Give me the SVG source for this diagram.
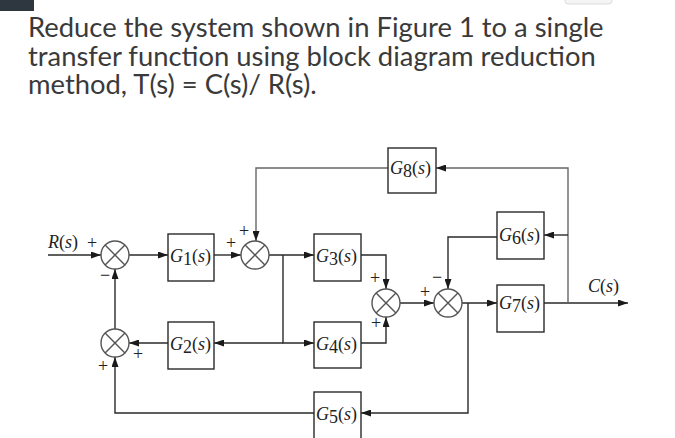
<svg xmlns="http://www.w3.org/2000/svg" width="675" height="438" viewBox="0 0 675 438">
<style>
.title{font-family:Lato,"Open Sans","Liberation Sans",sans-serif;font-size:27.4px;fill:#3a3a3a}
.lbl{font-family:"Liberation Serif","Times New Roman",serif;font-size:18px;fill:#222}
.it{font-style:italic}
.sg{font-family:"Liberation Serif","Times New Roman",serif;font-size:18px;fill:#222;text-anchor:middle}
.box{fill:none;stroke:#2a2a2a;stroke-width:1.4}
.sum circle{fill:#fff;stroke:#555;stroke-width:1.4}
.sum line{stroke:#555;stroke-width:1.4}
.wire{fill:none;stroke:#2a2a2a;stroke-width:1.4}
.wire.lt{stroke:#666}
</style>
<defs>
<marker id="ah" markerUnits="userSpaceOnUse" markerWidth="10" markerHeight="7" refX="10" refY="3.5" orient="auto">
<path d="M0,0 L10,3.5 L0,7 z" fill="#1a1a1a"/>
</marker>
</defs>
<rect x="0" y="0" width="675" height="438" fill="#fff"/>
<rect x="0" y="0" width="34" height="11" fill="#2e3640"/>
<path d="M565,0 V1 Q565,4 568,4 H609 Q612,4 612,1 V0" fill="#f4f4f4" stroke="#dddddd" stroke-width="1"/>
<g id="title">
<text class="title"><tspan x="28" y="37">Reduce the system shown in Figure 1 to a single</tspan><tspan x="28" y="66">transfer function using block diagram reduction</tspan><tspan x="28" y="94">method, T(s) = C(s)/ R(s).</tspan></text>
</g>
<g id="connectors">
<path class="wire" d="M48,255 H101" marker-end="url(#ah)"/>
<path class="wire" d="M129,255 H168" marker-end="url(#ah)"/>
<path class="wire" d="M214,255 H241" marker-end="url(#ah)"/>
<path class="wire lt" d="M388,168 H256 V241" marker-end="url(#ah)"/>
<path class="wire" d="M269,255 H314" marker-end="url(#ah)"/>
<path class="wire" d="M283,255 V343 H314" marker-end="url(#ah)"/>
<path class="wire" d="M283,343 H214" marker-end="url(#ah)"/>
<path class="wire" d="M168,343 H129" marker-end="url(#ah)"/>
<path class="wire" d="M115,329 V269" marker-end="url(#ah)"/>
<path class="wire" d="M361,255 H386 V289" marker-end="url(#ah)"/>
<path class="wire" d="M361,343 H386 V317" marker-end="url(#ah)"/>
<path class="wire" d="M400,303 H434" marker-end="url(#ah)"/>
<path class="wire" d="M462,303 H497" marker-end="url(#ah)"/>
<path class="wire" d="M544,303 H628" marker-end="url(#ah)"/>
<path class="wire lt" d="M568,303 V168 H436" marker-end="url(#ah)"/>
<path class="wire" d="M568,235 H544" marker-end="url(#ah)"/>
<path class="wire" d="M497,237 H448 V289" marker-end="url(#ah)"/>
<path class="wire" d="M468,303 V413 H361" marker-end="url(#ah)"/>
<path class="wire" d="M314,413 H115 V357" marker-end="url(#ah)"/>
</g>
<g id="sum1" class="sum"><circle cx="115" cy="255" r="14"/><line x1="105.1" y1="245.1" x2="124.9" y2="264.9"/><line x1="105.1" y1="264.9" x2="124.9" y2="245.1"/></g>
<g id="sum2" class="sum"><circle cx="255" cy="255" r="14"/><line x1="245.1" y1="245.1" x2="264.9" y2="264.9"/><line x1="245.1" y1="264.9" x2="264.9" y2="245.1"/></g>
<g id="sum3" class="sum"><circle cx="115" cy="343" r="14"/><line x1="105.1" y1="333.1" x2="124.9" y2="352.9"/><line x1="105.1" y1="352.9" x2="124.9" y2="333.1"/></g>
<g id="sum4" class="sum"><circle cx="386" cy="303" r="14"/><line x1="376.1" y1="293.1" x2="395.9" y2="312.9"/><line x1="376.1" y1="312.9" x2="395.9" y2="293.1"/></g>
<g id="sum5" class="sum"><circle cx="448" cy="303" r="14"/><line x1="438.1" y1="293.1" x2="457.9" y2="312.9"/><line x1="438.1" y1="312.9" x2="457.9" y2="293.1"/></g>
<g id="signs">
<text class="sg" x="92" y="249">+</text>
<text class="sg" x="105" y="281">−</text>
<text class="sg" x="231" y="249">+</text>
<text class="sg" x="244" y="237">+</text>
<text class="sg" x="138" y="360">+</text>
<text class="sg" x="103" y="372">+</text>
<text class="sg" x="375" y="284">+</text>
<text class="sg" x="376" y="329">+</text>
<text class="sg" x="425" y="298">+</text>
<text class="sg" x="437" y="283">−</text>
</g>
<g id="R"><text class="lbl" x="48" y="248"><tspan class="it">R</tspan>(<tspan class="it">s</tspan>)</text></g>
<g id="C"><text class="lbl" x="588" y="292"><tspan class="it">C</tspan>(<tspan class="it">s</tspan>)</text></g>
<g id="G1"><rect class="box" x="168" y="234" width="46" height="47"/><text class="lbl" x="170" y="262"><tspan class="it">G</tspan><tspan dy="3">1</tspan><tspan dy="-3">(</tspan><tspan class="it">s</tspan>)</text></g>
<g id="G2"><rect class="box" x="168" y="322" width="46" height="47"/><text class="lbl" x="170" y="350"><tspan class="it">G</tspan><tspan dy="3">2</tspan><tspan dy="-3">(</tspan><tspan class="it">s</tspan>)</text></g>
<g id="G3"><rect class="box" x="314" y="234" width="47" height="47"/><text class="lbl" x="316" y="262"><tspan class="it">G</tspan><tspan dy="3">3</tspan><tspan dy="-3">(</tspan><tspan class="it">s</tspan>)</text></g>
<g id="G4"><rect class="box" x="314" y="322" width="47" height="46"/><text class="lbl" x="316" y="350"><tspan class="it">G</tspan><tspan dy="3">4</tspan><tspan dy="-3">(</tspan><tspan class="it">s</tspan>)</text></g>
<g id="G5"><rect class="box" x="314" y="392" width="47" height="50"/><text class="lbl" x="316" y="420"><tspan class="it">G</tspan><tspan dy="3">5</tspan><tspan dy="-3">(</tspan><tspan class="it">s</tspan>)</text></g>
<g id="G6"><rect class="box" x="497" y="212" width="47" height="47"/><text class="lbl" x="499" y="241"><tspan class="it">G</tspan><tspan dy="3">6</tspan><tspan dy="-3">(</tspan><tspan class="it">s</tspan>)</text></g>
<g id="G7"><rect class="box" x="497" y="285" width="47" height="47"/><text class="lbl" x="499" y="309"><tspan class="it">G</tspan><tspan dy="3">7</tspan><tspan dy="-3">(</tspan><tspan class="it">s</tspan>)</text></g>
<g id="G8"><rect class="box" x="388" y="148" width="48" height="45"/><text class="lbl" x="390" y="174"><tspan class="it">G</tspan><tspan dy="3">8</tspan><tspan dy="-3">(</tspan><tspan class="it">s</tspan>)</text></g>
</svg>
